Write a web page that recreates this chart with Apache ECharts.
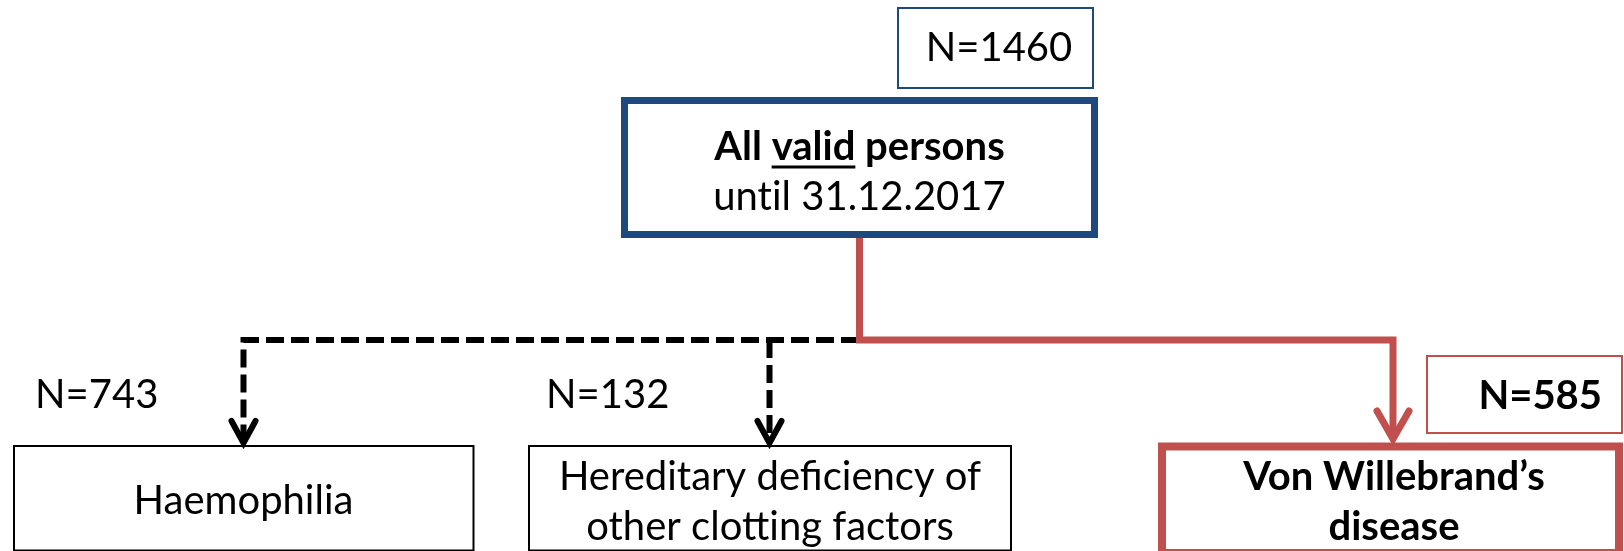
<!DOCTYPE html>
<html>
<head>
<meta charset="utf-8">
<script src="https://cdn.jsdelivr.net/npm/echarts@6/dist/echarts.min.js"></script>
<style>
  html, body { margin: 0; padding: 0; background: #fff; }
  #chart { width: 1624px; height: 551px; }
</style>
</head>
<body>
<div id="chart"></div>
<script>
// 数据
const groupNames = ['All valid persons', 'Haemophilia', 'Hereditary deficiency of other clotting factors', 'Von Willebrand’s disease']
const groupCounts = [1460, 743, 132, 585]
const rootSubtitle = 'until 31.12.2017'
const underlinedWord = 'valid'

// 颜色 / 字体
const BLUE = '#1F497D'
const RED = '#C0504D'
const FONT = 'Lato, "Noto Sans", sans-serif'
const SIZE = 40

// 版面（像素坐标，经由隐藏坐标轴换算）
const boxLayout = [
  { x: 624.5, y: 100.5, w: 470, h: 134, color: BLUE, lw: 7, bold: [true, false], split: 3, cx: 859.5, ys: [147, 197] },
  { x: 14, y: 446, w: 459.5, h: 104.5, color: '#000', lw: 2, bold: [false], split: 1, cx: 243.5, ys: [501] },
  { x: 529, y: 446, w: 482, h: 104.5, color: '#000', lw: 2, bold: [false, false], split: 3, cx: 770, ys: [477, 527] },
  { x: 1162, y: 446.5, w: 457, h: 106.5, color: RED, lw: 8, bold: [true, true], split: 2, cx: 1394, ys: [477, 527] }
]
const countLayout = [
  { box: [898, 8, 195, 80], color: BLUE, x: 999, y: 48, align: 'center', bold: false },
  { box: null, x: 35, y: 395, align: 'left', bold: false },
  { box: null, x: 546, y: 395, align: 'left', bold: false },
  { box: [1427, 356, 195, 77], color: RED, x: 1602, y: 396, align: 'right', bold: true }
]
const linkLayout = [
  { from: 0, to: 1, dashed: true, color: '#000', lw: 6, head: [12, 22], points: [[859, 340], [243.5, 340], [243.5, 443]] },
  { from: 0, to: 2, dashed: true, color: '#000', lw: 6, head: [12, 22], points: [[769.5, 340], [769.5, 443]] },
  { from: 0, to: 3, dashed: false, color: RED, lw: 7, head: [16, 28], points: [[859.5, 238], [859.5, 340], [1393, 340], [1393, 439]] }
]

const measureCtx = document.createElement('canvas').getContext('2d')
function textWidth(str, font) {
  measureCtx.font = font
  return measureCtx.measureText(str).width
}
function fontOf(bold) {
  return (bold ? 'bold ' : '') + SIZE + 'px ' + FONT
}
// Lato 会把 "ti" 连字，插入零宽不连字符避免
function noLigature(str) {
  return str.replace(/t(?=i)/g, 't\u200C')
}

function boxLines(i) {
  const words = groupNames[i].split(' ')
  const lines = [words.slice(0, boxLayout[i].split).join(' ')]
  const rest = words.slice(boxLayout[i].split).join(' ')
  if (i === 0) lines.push(rootSubtitle)
  else if (rest) lines.push(rest)
  return lines
}

function renderBox(params, api) {
  const i = api.value(0)
  const b = boxLayout[i]
  const p = api.coord([b.x, b.y])
  const s = api.size([b.w, b.h])
  const children = [{
    type: 'rect',
    shape: { x: p[0], y: p[1], width: s[0], height: s[1] },
    style: { fill: '#fff', stroke: b.color, lineWidth: b.lw }
  }]
  boxLines(i).forEach((line, k) => {
    const c = api.coord([b.cx, b.ys[k]])
    const font = fontOf(b.bold[k])
    children.push({
      type: 'text',
      style: { text: noLigature(line), x: c[0], y: c[1], font, fill: '#000', align: 'center', verticalAlign: 'middle' }
    })
    // 下划线
    const idx = line.indexOf(underlinedWord)
    if (i === 0 && k === 0 && idx >= 0) {
      const total = textWidth(line, font)
      const x0 = c[0] - total / 2 + textWidth(line.slice(0, idx), font)
      const x1 = x0 + textWidth(underlinedWord, font)
      children.push({
        type: 'line',
        shape: { x1: x0, y1: c[1] + 20, x2: x1, y2: c[1] + 20 },
        style: { stroke: '#000', lineWidth: 3 }
      })
    }
  })
  return { type: 'group', children }
}

function renderCount(params, api) {
  const i = api.value(0)
  const c = countLayout[i]
  const children = []
  if (c.box) {
    const p = api.coord([c.box[0], c.box[1]])
    const s = api.size([c.box[2], c.box[3]])
    children.push({
      type: 'rect',
      shape: { x: p[0], y: p[1], width: s[0], height: s[1] },
      style: { fill: '#fff', stroke: c.color, lineWidth: 2 }
    })
  }
  const t = api.coord([c.x, c.y])
  children.push({
    type: 'text',
    style: { text: 'N=' + groupCounts[i], x: t[0], y: t[1], font: fontOf(c.bold), fill: '#000', align: c.align, verticalAlign: 'middle' }
  })
  return { type: 'group', children }
}

function renderLink(params, api) {
  const l = linkLayout[api.value(0)]
  const pts = l.points.map(pt => api.coord(pt))
  const tip = pts[pts.length - 1]
  const hw = l.head[0]
  const hh = l.head[1]
  return {
    type: 'group',
    children: [
      {
        type: 'polyline',
        shape: { points: pts },
        style: { stroke: l.color, lineWidth: l.lw, fill: null, lineDash: l.dashed ? [18, 7] : null, lineJoin: 'miter' }
      },
      {
        type: 'polyline',
        shape: { points: [[tip[0] - hw, tip[1] - hh], [tip[0], tip[1]], [tip[0] + hw, tip[1] - hh]] },
        style: { stroke: l.color, lineWidth: l.lw, fill: null, lineJoin: 'miter', lineCap: 'round' }
      }
    ]
  }
}

const chart = echarts.init(document.getElementById('chart'))
chart.setOption({
  animation: false,
  grid: { left: 0, right: 0, top: 0, bottom: 0 },
  xAxis: { type: 'value', min: 0, max: 1624, show: false },
  yAxis: { type: 'value', min: 0, max: 551, inverse: true, show: false },
  series: [
    {
      type: 'custom',
      renderItem: renderBox,
      data: groupNames.map((n, i) => [i]),
      encode: { x: -1, y: -1 },
      silent: true,
      z: 1
    },
    {
      type: 'custom',
      renderItem: renderCount,
      data: groupCounts.map((n, i) => [i]),
      encode: { x: -1, y: -1 },
      silent: true,
      z: 2
    },
    {
      type: 'custom',
      renderItem: renderLink,
      data: linkLayout.map((l, i) => [i]),
      encode: { x: -1, y: -1 },
      silent: true,
      z: 3
    }
  ]
})
</script>
</body>
</html>
